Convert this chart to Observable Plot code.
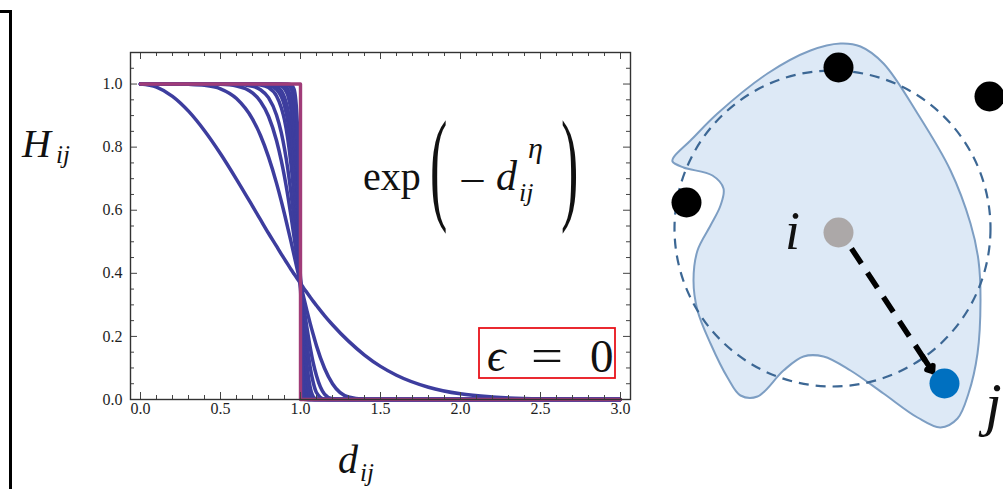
<!DOCTYPE html>
<html>
<head>
<meta charset="utf-8">
<script src="https://cdn.jsdelivr.net/npm/d3@7"></script>
<script src="https://cdn.jsdelivr.net/npm/@observablehq/plot@0.6"></script>
<style>
html, body { margin: 0; padding: 0; background: #fff; }
#wrap { position: relative; width: 1003px; height: 489px; overflow: hidden; background: #fff; }
#left, #right, #over { position: absolute; top: 0; }
#left { left: 0; }
#right { left: 650px; }
#over { left: 0; pointer-events: none; }
#over text { font-family: "Liberation Serif", "Times New Roman", "DejaVu Serif", serif; }
</style>
</head>
<body>
<div id="wrap">
  <div id="left"></div>
  <div id="right"></div>
  <svg id="over" width="1003" height="489" xmlns="http://www.w3.org/2000/svg">
    <path d="M0 11.5H10.5V489" fill="none" stroke="#000" stroke-width="3"/>
    <g fill="#111">
      <text x="22" y="157" font-style="italic" font-size="40">H</text>
      <text x="56" y="163" font-style="italic" font-size="25">ij</text>
      <text x="338" y="473" font-style="italic" font-size="40">d</text>
      <text x="360" y="481" font-style="italic" font-size="25">ij</text>
      <text x="363" y="190" font-size="40">exp</text>
      <text transform="translate(430,207) scale(1,2.4)" font-size="52">(</text>
      <text x="459" y="194" font-size="40" textLength="27" lengthAdjust="spacingAndGlyphs">−</text>
      <text x="496" y="190" font-style="italic" font-size="42">d</text>
      <text x="519" y="201" font-style="italic" font-size="26">ij</text>
      <text x="528" y="158" font-style="italic" font-size="30">η</text>
      <text transform="translate(561,207) scale(1,2.4)" font-size="52">)</text>
      <rect x="479" y="328" width="136" height="50" fill="none" stroke="#e8131b" stroke-width="1.8"/>
      <text x="487" y="371" font-style="italic" font-size="46">ϵ</text>
      <text x="531" y="371" font-size="46" textLength="32" lengthAdjust="spacingAndGlyphs">=</text>
      <text x="590" y="372" font-size="47">0</text>
      <text x="785" y="249" font-style="italic" font-size="54">i</text>
      <text x="985" y="424" font-style="italic" font-size="60">j</text>
    </g>
  </svg>
</div>
<script>
// ---------- Left panel data: H_ij = exp(-d^eta) ----------
const dGrid = [0, 0.1, 0.2, 0.3, 0.4, 0.5, 0.6, 0.7, 0.75, 0.8, 0.85, 0.88, 0.9, 0.92, 0.94, 0.96, 0.98, 1.0,
               1.02, 1.04, 1.06, 1.08, 1.1, 1.15, 1.2, 1.3, 1.4, 1.5, 1.6, 1.8, 2.0, 2.2, 2.5, 3.0];
const etaValues = [2, 6, 10, 14, 20, 25, 30, 40, 50, 70, 100];
const hEta2   = [1, 0.990, 0.961, 0.914, 0.852, 0.779, 0.698, 0.613, 0.570, 0.527, 0.486, 0.461, 0.445, 0.429, 0.413, 0.398, 0.383, 0.368,
                 0.353, 0.339, 0.325, 0.311, 0.298, 0.266, 0.237, 0.185, 0.141, 0.105, 0.077, 0.039, 0.018, 0.008, 0.002, 0];
const hEta6   = [1, 1, 1, 0.999, 0.996, 0.985, 0.954, 0.889, 0.837, 0.769, 0.686, 0.629, 0.588, 0.545, 0.502, 0.457, 0.412, 0.368,
                 0.324, 0.282, 0.242, 0.205, 0.170, 0.099, 0.050, 0.008, 0.001, 0, 0, 0, 0, 0, 0, 0];
const hEta10  = [1, 1, 1, 1, 1, 0.999, 0.994, 0.972, 0.945, 0.898, 0.821, 0.757, 0.706, 0.648, 0.584, 0.514, 0.442, 0.368,
                 0.296, 0.228, 0.167, 0.115, 0.075, 0.017, 0.002, 0, 0, 0, 0, 0, 0, 0, 0, 0];
const hEta14  = [1, 1, 1, 1, 1, 1, 0.999, 0.993, 0.982, 0.957, 0.902, 0.846, 0.795, 0.733, 0.657, 0.568, 0.471, 0.368,
                 0.267, 0.177, 0.104, 0.053, 0.022, 0.001, 0, 0, 0, 0, 0, 0, 0, 0, 0, 0];
const hEta20  = [1, 1, 1, 1, 1, 1, 1, 0.999, 0.997, 0.989, 0.962, 0.925, 0.886, 0.828, 0.748, 0.643, 0.513, 0.368,
                 0.226, 0.112, 0.040, 0.009, 0.001, 0, 0, 0, 0, 0, 0, 0, 0, 0, 0, 0];
const hEta25  = [1, 1, 1, 1, 1, 1, 1, 1, 0.999, 0.996, 0.983, 0.960, 0.931, 0.883, 0.808, 0.697, 0.547, 0.368,
                 0.194, 0.070, 0.014, 0.001, 0, 0, 0, 0, 0, 0, 0, 0, 0, 0, 0, 0];
const hEta30  = [1, 1, 1, 1, 1, 1, 1, 1, 1, 0.999, 0.992, 0.979, 0.958, 0.921, 0.856, 0.745, 0.580, 0.368,
                 0.163, 0.039, 0.003, 0, 0, 0, 0, 0, 0, 0, 0, 0, 0, 0, 0, 0];
const hEta40  = [1, 1, 1, 1, 1, 1, 1, 1, 1, 1, 0.998, 0.994, 0.985, 0.965, 0.919, 0.822, 0.640, 0.368,
                 0.110, 0.008, 0, 0, 0, 0, 0, 0, 0, 0, 0, 0, 0, 0, 0, 0];
const hEta50  = [1, 1, 1, 1, 1, 1, 1, 1, 1, 1, 1, 0.998, 0.995, 0.985, 0.956, 0.878, 0.695, 0.368,
                 0.068, 0.001, 0, 0, 0, 0, 0, 0, 0, 0, 0, 0, 0, 0, 0, 0];
const hEta70  = [1, 1, 1, 1, 1, 1, 1, 1, 1, 1, 1, 1, 0.999, 0.997, 0.987, 0.944, 0.784, 0.368,
                 0.018, 0, 0, 0, 0, 0, 0, 0, 0, 0, 0, 0, 0, 0, 0, 0];
const hEta100 = [1, 1, 1, 1, 1, 1, 1, 1, 1, 1, 1, 1, 1, 1, 0.998, 0.983, 0.876, 0.368,
                 0.001, 0, 0, 0, 0, 0, 0, 0, 0, 0, 0, 0, 0, 0, 0, 0];
const hSeries = [hEta2, hEta6, hEta10, hEta14, hEta20, hEta25, hEta30, hEta40, hEta50, hEta70, hEta100];
// limiting step curve
const stepD = [0, 1, 1, 3];
const stepH = [1, 1, 0, 0];
// ticks
const xMajorTicks = [0, 0.5, 1, 1.5, 2, 2.5, 3];
const xMinorTicks = [0.1, 0.2, 0.3, 0.4, 0.6, 0.7, 0.8, 0.9, 1.1, 1.2, 1.3, 1.4, 1.6, 1.7, 1.8, 1.9, 2.1, 2.2, 2.3, 2.4, 2.6, 2.7, 2.8, 2.9];
const yMajorTicks = [0, 0.2, 0.4, 0.6, 0.8, 1.0];
const yMinorTicks = [0.05, 0.1, 0.15, 0.25, 0.3, 0.35, 0.45, 0.5, 0.55, 0.65, 0.7, 0.75, 0.85, 0.9, 0.95, 1.05];

// ---------- Right panel data (diagram coordinates) ----------
const blobX = [673, 690, 717, 767, 810, 840, 860, 883, 917, 950, 970, 978, 980, 977, 968, 957, 940, 917, 883, 850, 823, 803, 783, 757, 740, 727, 710, 697, 693, 697, 710, 720, 723, 712, 683, 672];
const blobY = [157, 140, 113, 73, 50, 43, 46, 63, 113, 170, 223, 260, 300, 353, 393, 418, 427, 417, 393, 370, 356, 356, 370, 396, 395, 377, 343, 310, 280, 250, 225, 205, 188, 175, 167, 161];
const circleX = [832], circleY = [228];
const neighbourX = [838, 989, 686], neighbourY = [67, 96, 202];
const focalX = [838], focalY = [232];
const targetX = [944], targetY = [383];
const arrowFrom = [851, 248], arrowTo = [932, 371];

// ---------- Left plot ----------
const BLUE = "#3d3d9e", PURPLE = "#a03c78", TICK = "#444";
const SERIF = "Liberation Serif, Times New Roman, serif";
const curveRows = etaValues.flatMap((eta, k) => dGrid.map((d, i) => ({eta, d, h: hSeries[k][i]})));
const stepRows = stepD.map((d, i) => ({d, h: stepH[i]}));
const FH = 489 - 52 - 90, FW = 640 - 130 - 10;

const left = Plot.plot({
  width: 640, height: 489,
  marginLeft: 130, marginRight: 10, marginTop: 52, marginBottom: 90,
  style: {background: "transparent", fontSize: "16px"},
  x: {domain: [-0.0625, 3.0625], axis: null},
  y: {domain: [0, 1.1], axis: null},
  marks: [
    Plot.line(curveRows, {x: "d", y: "h", z: "eta", stroke: BLUE, strokeWidth: 3.5, curve: "monotone-x"}),
    Plot.line(stepRows, {x: "d", y: "h", stroke: PURPLE, strokeWidth: 3.4, strokeLinejoin: "round"}),
    Plot.tickX(xMinorTicks, {x: d => d, insetTop: FH - 4, stroke: TICK}),
    Plot.tickX(xMajorTicks, {x: d => d, insetTop: FH - 7, stroke: TICK}),
    Plot.tickX(xMinorTicks, {x: d => d, insetBottom: FH - 4, stroke: TICK}),
    Plot.tickX(xMajorTicks, {x: d => d, insetBottom: FH - 7, stroke: TICK}),
    Plot.tickY(yMinorTicks, {y: d => d, insetRight: FW - 4, stroke: TICK}),
    Plot.tickY(yMajorTicks, {y: d => d, insetRight: FW - 7, stroke: TICK}),
    Plot.tickY(yMinorTicks, {y: d => d, insetLeft: FW - 4, stroke: TICK}),
    Plot.tickY(yMajorTicks, {y: d => d, insetLeft: FW - 7, stroke: TICK}),
    Plot.text(xMajorTicks, {x: d => d, frameAnchor: "bottom", dy: 14, text: d => d.toFixed(1), fontSize: 16, fontFamily: SERIF, fill: "#1e1e1e"}),
    Plot.text(yMajorTicks, {y: d => d, frameAnchor: "left", dx: -8, textAnchor: "end", text: d => d.toFixed(1), fontSize: 16, fontFamily: SERIF, fill: "#1e1e1e"}),
    Plot.frame({stroke: "#333", strokeWidth: 1.4})
  ]
});
document.getElementById("left").appendChild(left);

// ---------- Right plot (diagram) ----------
const blobRows = blobX.map((x, i) => ({x, y: blobY[i]}));
const pts = (xs, ys) => xs.map((x, i) => ({x, y: ys[i]}));
const t1 = 0.88;
const headSeg = {x1: arrowFrom[0] + t1 * (arrowTo[0] - arrowFrom[0]), y1: arrowFrom[1] + t1 * (arrowTo[1] - arrowFrom[1]), x2: arrowTo[0], y2: arrowTo[1]};
const shaft = {x1: arrowFrom[0], y1: arrowFrom[1], x2: arrowFrom[0] + 0.95 * (arrowTo[0] - arrowFrom[0]), y2: arrowFrom[1] + 0.95 * (arrowTo[1] - arrowFrom[1])};

const right = Plot.plot({
  width: 353, height: 489, margin: 0,
  style: {background: "transparent", overflow: "visible"},
  x: {domain: [650, 1003], axis: null},
  y: {domain: [489, 0], axis: null},
  marks: [
    Plot.line(blobRows, {x: "x", y: "y", curve: "catmull-rom-closed", fill: "#dde9f6", stroke: "#7d9ec3", strokeWidth: 2}),
    Plot.dot(pts(circleX, circleY), {x: "x", y: "y", r: 158, fill: "none", stroke: "#3c6794", strokeWidth: 2.2, strokeDasharray: "10,7"}),
    Plot.dot(pts(neighbourX, neighbourY), {x: "x", y: "y", r: 15, fill: "#000"}),
    Plot.dot(pts(focalX, focalY), {x: "x", y: "y", r: 15, fill: "#aca8a8"}),
    Plot.link([shaft], {x1: "x1", y1: "y1", x2: "x2", y2: "y2", stroke: "#000", strokeWidth: 5.5, strokeDasharray: "18,11"}),
    Plot.arrow([headSeg], {x1: "x1", y1: "y1", x2: "x2", y2: "y2", stroke: "#000", strokeWidth: 5.5, headLength: 28, headAngle: 75, strokeLinejoin: "miter"}),
    Plot.dot(pts(targetX, targetY), {x: "x", y: "y", r: 15, fill: "#0070c0"})
  ]
});
document.getElementById("right").appendChild(right);
</script>
</body>
</html>
